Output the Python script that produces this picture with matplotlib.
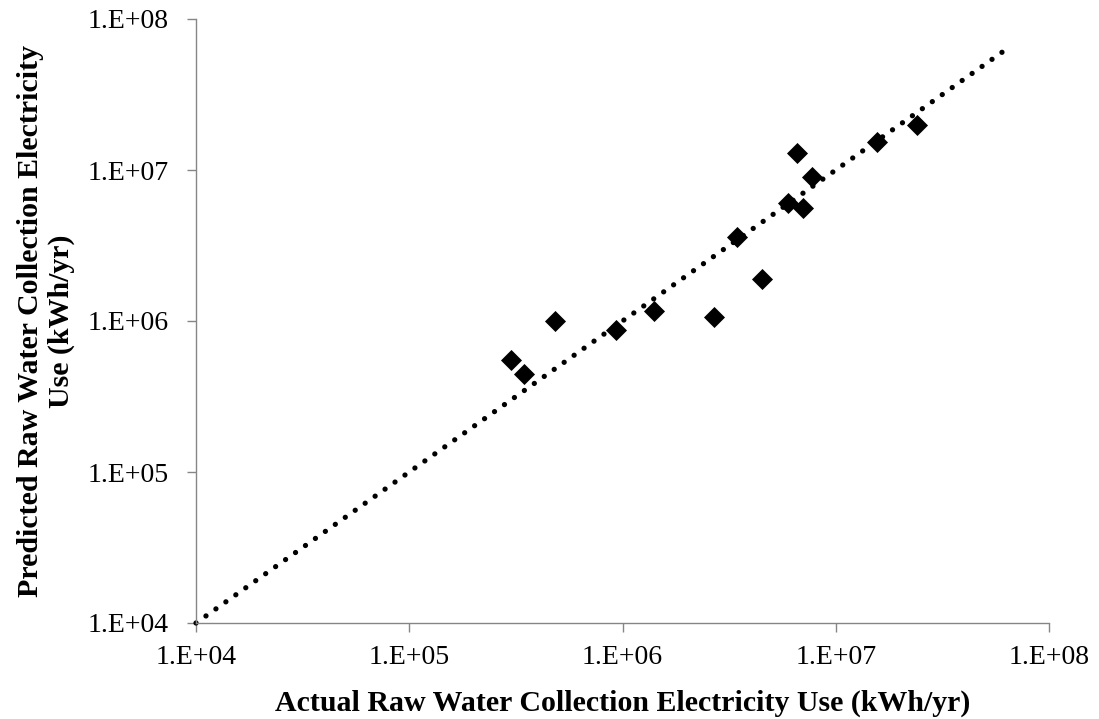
import matplotlib
matplotlib.use("Agg")
import matplotlib.pyplot as plt
from matplotlib.ticker import FixedLocator, FixedFormatter, NullLocator

actual = [3.0e5, 3.45e5, 4.8e5, 9.3e5, 1.41e6, 2.7e6, 3.45e6, 4.5e6,
          6.0e6, 6.6e6, 7.0e6, 7.7e6, 1.56e7, 2.4e7]
predicted = [5.5e5, 4.45e5, 1.0e6, 8.7e5, 1.16e6, 1.06e6, 3.6e6, 1.9e6,
             6.0e6, 1.3e7, 5.6e6, 9.0e6, 1.53e7, 2.0e7]
trend_x = [1e4, 6.4e7]
trend_y = [1e4, 6.4e7]
tick_vals = [1e4, 1e5, 1e6, 1e7, 1e8]
tick_labels = ["1.E+04", "1.E+05", "1.E+06", "1.E+07", "1.E+08"]

plt.rcParams['font.family'] = ['Liberation Serif', 'DejaVu Serif']

fig = plt.figure(figsize=(10.99, 7.19), dpi=100)
ax = fig.add_axes([196/1099, 1-623/719, (1049-196)/1099, (623-19)/719])

ax.plot(trend_x, trend_y, color='black', lw=3.8, linestyle=(0, (0.01, 2.3)),
        dash_capstyle='round', zorder=2, clip_on=False)
ax.scatter(actual, predicted, marker='D', s=115, color='black', zorder=3,
           linewidths=0)

ax.set_xscale('log')
ax.set_yscale('log')
ax.set_xlim(1e4, 1e8)
ax.set_ylim(1e4, 1e8)
for axis in (ax.xaxis, ax.yaxis):
    axis.set_major_locator(FixedLocator(tick_vals))
    axis.set_major_formatter(FixedFormatter(tick_labels))
    axis.set_minor_locator(NullLocator())

for s in ('top', 'right'):
    ax.spines[s].set_visible(False)
for s in ('left', 'bottom'):
    ax.spines[s].set_color('#868686')
    ax.spines[s].set_linewidth(1.0)

ax.tick_params(axis='both', which='major', direction='out', length=6.5, width=1.0,
               color='#868686', labelsize=20, labelcolor='black')
ax.tick_params(axis='y', pad=13)
ax.tick_params(axis='x', pad=9)

ax.set_xlabel("Actual Raw Water Collection Electricity Use (kWh/yr)",
              fontsize=21.5, fontweight='bold', va='center')
ax.xaxis.set_label_coords(0.5, -(703-623)/604)
ax.set_ylabel("Predicted Raw Water Collection Electricity\nUse (kWh/yr)",
              fontsize=21.5, fontweight='bold', va='center', linespacing=1.15)
ax.yaxis.set_label_coords((46-196)/853, 0.5)

fig.savefig("out.png", dpi=100)
